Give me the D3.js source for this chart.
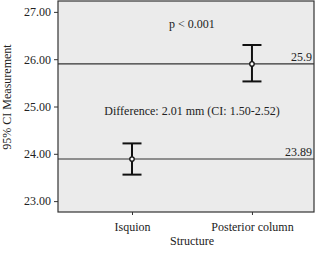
<!DOCTYPE html>
<html>
<head>
<meta charset="utf-8">
<script src="https://cdn.jsdelivr.net/npm/d3@7"></script>
<style>
  body { margin: 0; background: #fff; }
  text { font-family: "Liberation Serif", "DejaVu Serif", serif; fill: #222; }
</style>
</head>
<body>
<svg id="paper"></svg>
<script>
// data
let categories = ["Isquion", "Posterior column"];
let means = [23.89, 25.9];
let ciLow = [23.56, 25.53];
let ciHigh = [24.22, 26.30];
let refLabels = ["23.89", "25.9"];
let yTicks = [23, 24, 25, 26, 27];

let margin = {top: 1, right: 11, bottom: 42, left: 58},
    width = 325 - margin.left - margin.right,
    height = 254 - margin.top - margin.bottom;

let svg = d3.select("#paper")
        .attr("width", 325)
        .attr("height", 254),
    g = svg.append("g")
        .attr("transform", "translate(" + margin.left + "," + margin.top + ")");

let x = d3.scalePoint()
    .domain(categories)
    .range([0, width])
    .padding(0.567)
    .align(0.544);

let y = d3.scaleLinear()
    .domain([22.77, 27.23])
    .range([height, 0]);

g.append("rect")
    .attr("width", width)
    .attr("height", height)
    .attr("fill", "#ebebeb");

// reference lines
g.selectAll(".ref")
    .data(means)
    .enter()
    .append("line")
    .attr("x1", 0)
    .attr("x2", width)
    .attr("y1", d => y(d))
    .attr("y2", d => y(d))
    .attr("stroke", "#333")
    .attr("stroke-width", 1.2);

g.selectAll(".ref_label")
    .data(means)
    .enter()
    .append("text")
    .attr("x", width - 2)
    .attr("y", d => y(d) - 3)
    .style("text-anchor", "end")
    .style("font-size", "12px")
    .text((d, i) => refLabels[i]);

// error bars
let bars = g.selectAll(".bar")
    .data(categories)
    .enter()
    .append("g");

bars.append("line")
    .attr("x1", d => x(d))
    .attr("x2", d => x(d))
    .attr("y1", (d, i) => y(ciLow[i]))
    .attr("y2", (d, i) => y(ciHigh[i]))
    .attr("stroke", "#111")
    .attr("stroke-width", 2);

bars.selectAll(".cap")
    .data((d, i) => [ciLow[i], ciHigh[i]].map(v => ({c: d, v: v})))
    .enter()
    .append("line")
    .attr("x1", d => x(d.c) - 9.5)
    .attr("x2", d => x(d.c) + 9.5)
    .attr("y1", d => y(d.v))
    .attr("y2", d => y(d.v))
    .attr("stroke", "#111")
    .attr("stroke-width", 2);

bars.append("circle")
    .attr("cx", d => x(d))
    .attr("cy", (d, i) => y(means[i]))
    .attr("r", 2.2)
    .attr("fill", "#fff")
    .attr("stroke", "#111")
    .attr("stroke-width", 1.3);

// frame
g.append("rect")
    .attr("width", width)
    .attr("height", height)
    .attr("fill", "none")
    .attr("stroke", "#333")
    .attr("stroke-width", 1.2);

// axes
let yAxis = g.append("g")
    .call(d3.axisLeft(y).tickValues(yTicks).tickSize(4).tickFormat(d3.format(".2f")));
let xAxis = g.append("g")
    .attr("transform", "translate(0," + height + ")")
    .call(d3.axisBottom(x).tickSize(3));

[yAxis, xAxis].forEach(a => {
    a.select(".domain").remove();
    a.selectAll("line").attr("stroke", "#333");
    a.selectAll("text")
        .style("font-family", "Liberation Serif, serif")
        .style("font-size", "12px")
        .attr("fill", "#222");
});
xAxis.selectAll("text").attr("dy", "1.05em");

// annotations
g.append("text")
    .attr("x", (x(categories[0]) + x(categories[1])) / 2)
    .attr("y", 27)
    .style("text-anchor", "middle")
    .style("font-size", "12px")
    .text("p < 0.001");

g.append("text")
    .attr("x", (x(categories[0]) + x(categories[1])) / 2)
    .attr("y", 114)
    .style("text-anchor", "middle")
    .style("font-size", "12px")
    .text("Difference: 2.01 mm (CI: 1.50-2.52)");

// axis titles
svg.append("text")
    .attr("transform", "translate(11,97) rotate(-90)")
    .style("text-anchor", "middle")
    .style("font-size", "12px")
    .text("95% CI Measurement");

svg.append("text")
    .attr("x", margin.left + (x(categories[0]) + x(categories[1])) / 2)
    .attr("y", 245)
    .style("text-anchor", "middle")
    .style("font-size", "12px")
    .text("Structure");
</script>
</body>
</html>
